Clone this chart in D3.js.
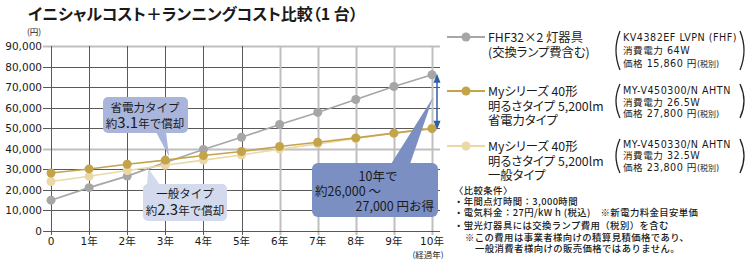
<!DOCTYPE html>
<html>
<head>
<meta charset="utf-8">
<script src="https://cdn.jsdelivr.net/npm/d3@7"></script>
<style>
  body { margin: 0; background: #fff; }
  svg text { font-family: "Noto Sans CJK JP", sans-serif; fill: #1a1a1a; }
  svg text.palt { font-feature-settings: "palt"; }
  svg text.num { font-family: "DejaVu Sans", "Noto Sans CJK JP", sans-serif; }
</style>
</head>
<body>
<div id="chart"></div>
<script>
// years on the x axis and their labels
const years = [0, 1, 2, 3, 4, 5, 6, 7, 8, 9, 10];
const yearLabels = ["0", "1年", "2年", "3年", "4年", "5年", "6年", "7年", "8年", "9年", "10年"];
const yTicks = [0, 10000, 20000, 30000, 40000, 50000, 60000, 70000, 80000, 90000];

// cumulative cost (円) per year
const costFHF = [15000, 21100, 26700, 33300, 39700, 45600, 51800, 57700, 64000, 70300, 76000];
const costSaving = [28200, 30200, 32500, 34500, 36700, 38700, 41100, 43200, 45300, 47600, 49800];
const costGeneral = [24100, 26600, 29400, 32000, 34500, 37000, 39800, 42400, 45000, 47600, 50200];

const seriesColors = ["#a6a6a6", "#c4a44b", "#ead9a6"];

// legend texts
const legendLines = [
  ["FHF32×2 灯器具", "(交換ランプ費含む)"],
  ["Myシリーズ 40形", "明るさタイプ 5,200lm", "省電力タイプ"],
  ["Myシリーズ 40形", "明るさタイプ 5,200lm", "一般タイプ"]
];
const modelNames = ["KV4382EF LVPN (FHF)", "MY-V450300/N AHTN", "MY-V450330/N AHTN"];
const powers = ["64W", "26.5W", "32.5W"];
const prices = ["15,860", "27,800", "23,800"];

const notes = [
  "〈比較条件〉",
  "・年間点灯時間：3,000時間",
  "・電気料金：27円/kW h (税込)　※新電力料金目安単価",
  "・蛍光灯器具には交換ランプ費用（税別）を含む",
  "※この費用は事業者様向けの積算見積価格であり、",
  "一般消費者様向けの販売価格ではありません。"
];

const W = 750, H = 259;
const svg = d3.select("#chart").append("svg")
  .attr("width", W).attr("height", H);

const x = d3.scaleLinear().domain([0, 10]).range([51, 432]);
const y = d3.scaleLinear().domain([0, 90000]).range([231, 46]);
const plotRight = 440;

// title
svg.append("text")
  .attr("class", "palt")
  .attr("x", 28).attr("y", 20)
  .attr("font-size", 16).attr("font-weight", "bold")
  .text("イニシャルコスト＋ランニングコスト比較（1 台）");

svg.append("text")
  .attr("x", 27).attr("y", 35)
  .attr("font-size", 8.5)
  .text("(円)");

// grid (some lines render lighter/thicker in the original)
const lightH = [40000, 90000];
const lightV = [6, 7, 8, 9, 10];
const grid = svg.append("g");
grid.selectAll(".hg").data(yTicks).enter().append("line")
  .attr("x1", 43).attr("x2", plotRight)
  .attr("y1", d => Math.round(y(d)) + 0.5).attr("y2", d => Math.round(y(d)) + 0.5)
  .attr("stroke", d => lightH.includes(d) ? "#bfbfbf" : "#595959")
  .attr("stroke-width", d => lightH.includes(d) ? 2 : 1);
grid.selectAll(".vg").data(years).enter().append("line")
  .attr("x1", d => Math.round(x(d)) + 0.5).attr("x2", d => Math.round(x(d)) + 0.5)
  .attr("y1", y(90000)).attr("y2", y(0) + 4)
  .attr("stroke", d => lightV.includes(d) ? "#bfbfbf" : "#595959")
  .attr("stroke-width", d => lightV.includes(d) ? 2 : 1);
grid.append("line")
  .attr("x1", 43).attr("x2", plotRight)
  .attr("y1", Math.round(y(0)) + 0.5).attr("y2", Math.round(y(0)) + 0.5)
  .attr("stroke", "#595959");

// axis labels
svg.append("g").selectAll("text").data(yTicks).enter().append("text")
  .attr("class", "num")
  .attr("x", 42).attr("y", d => y(d) + 4)
  .attr("text-anchor", "end").attr("font-size", 10.5)
  .text(d => d3.format(",")(d));

svg.append("g").selectAll("text").data(years).enter().append("text")
  .attr("class", "num")
  .attr("x", d => x(d)).attr("y", 245)
  .attr("text-anchor", "middle").attr("font-size", 10.5)
  .text((d, i) => yearLabels[i]);

svg.append("text")
  .attr("x", 428).attr("y", 258)
  .attr("text-anchor", "middle").attr("font-size", 8.5)
  .text("(経過年)");

// series lines
const allSeries = [costFHF, costSaving, costGeneral];
const drawOrder = [0, 2, 1];
const line = d3.line().x((d, i) => x(years[i])).y(d => y(d));
drawOrder.forEach(k => {
  const g = svg.append("g");
  g.append("path")
    .attr("d", line(allSeries[k]))
    .attr("fill", "none")
    .attr("stroke", seriesColors[k])
    .attr("stroke-width", 1.6);
  g.selectAll("circle").data(allSeries[k]).enter().append("circle")
    .attr("cx", (d, i) => x(years[i])).attr("cy", d => y(d))
    .attr("r", 4.5)
    .attr("fill", seriesColors[k]);
});

// callouts
function callout(g, box, tail, fill) {
  g.append("path")
    .attr("d", `M${tail[0][0]},${tail[0][1]}L${tail[2][0]},${tail[2][1]}L${tail[1][0]},${tail[1][1]}Z`)
    .attr("fill", fill);
  g.append("rect")
    .attr("x", box.x).attr("y", box.y)
    .attr("width", box.w).attr("height", box.h)
    .attr("rx", box.r).attr("fill", fill);
}

const c1 = svg.append("g");
callout(c1, { x: 103, y: 97, w: 85, h: 36, r: 5 },
  [[156, 132], [166, 132], [x(3.1), y(36200)]], "#a9b5da");
c1.append("text").attr("x", 145).attr("y", 112).attr("text-anchor", "middle")
  .attr("font-size", 11.5).text("省電力タイプ");
c1.append("text").attr("x", 145).attr("y", 128).attr("text-anchor", "middle")
  .attr("font-size", 11.5)
  .call(t => {
    t.append("tspan").text("約");
    t.append("tspan").attr("font-size", 15).text("3.1");
    t.append("tspan").text("年で償却");
  });

const c2 = svg.append("g");
callout(c2, { x: 143, y: 184, w: 84, h: 37, r: 5 },
  [[147, 185], [160, 185], [x(2.55), y(30500)]], "#d3daee");
c2.append("text").attr("x", 185).attr("y", 198).attr("text-anchor", "middle")
  .attr("font-size", 11.5).text("一般タイプ");
c2.append("text").attr("x", 185).attr("y", 215).attr("text-anchor", "middle")
  .attr("font-size", 11.5)
  .call(t => {
    t.append("tspan").text("約");
    t.append("tspan").attr("font-size", 15).text("2.3");
    t.append("tspan").text("年で償却");
  });

const c3 = svg.append("g");
callout(c3, { x: 312, y: 163, w: 126, h: 54, r: 6 },
  [[391, 164], [410, 164], [x(10) + 1, y(65000)]], "#7b8fc3");
c3.append("text").attr("x", 378).attr("y", 181).attr("text-anchor", "middle")
  .attr("font-size", 12.5).text("10年で");
c3.append("text").attr("x", 315).attr("y", 196)
  .attr("font-size", 12.5).text("約26,000 ～");
c3.append("text").attr("x", 434).attr("y", 211).attr("text-anchor", "end")
  .attr("font-size", 12.5).text("27,000 円お得");

// double arrow for the saving at year 10
const ax = x(10) + 5;
const arrowTop = y(costFHF[10]) - 1, arrowBot = y(costSaving[10]) + 1;
const arrowColor = "#2e5fa5";
svg.append("line")
  .attr("x1", ax).attr("x2", ax)
  .attr("y1", arrowTop + 4).attr("y2", arrowBot - 4)
  .attr("stroke", arrowColor).attr("stroke-width", 1.5);
svg.append("path")
  .attr("d", `M${ax},${arrowTop}l-3.5,9l7,0Z M${ax},${arrowBot}l-3.5,-9l7,0Z`)
  .attr("fill", arrowColor);

// legend
const legendY = [37, 91, 146];
const infoY = [[37, 50, 63], [90, 102, 113], [144, 155, 167]];
const parenSpan = [[31, 70], [84, 118], [139, 173]];
const legend = svg.append("g");
legendY.forEach((ly, k) => {
  legend.append("line")
    .attr("x1", 447).attr("x2", 485).attr("y1", ly).attr("y2", ly)
    .attr("stroke", seriesColors[k]).attr("stroke-width", 2.2);
  legend.append("circle")
    .attr("cx", 466).attr("cy", ly).attr("r", 4.5).attr("fill", seriesColors[k]);
  legendLines[k].forEach((s, j) => {
    legend.append("text")
      .attr("class", "palt")
      .attr("x", 488).attr("y", ly + 5 + j * 14.5)
      .attr("font-size", 12.3).text(s);
  });
  // parenthesised spec block
  const [p0, p1] = parenSpan[k];
  legend.append("path")
    .attr("d", `M620,${p0} Q612,${(p0 + p1) / 2} 620,${p1}`)
    .attr("fill", "none").attr("stroke", "#222").attr("stroke-width", 1.3);
  legend.append("path")
    .attr("d", `M740,${p0} Q748,${(p0 + p1) / 2} 740,${p1}`)
    .attr("fill", "none").attr("stroke", "#222").attr("stroke-width", 1.3);
  const iy = infoY[k];
  const info = [modelNames[k], "消費電力 " + powers[k]];
  info.forEach((s, j) => {
    legend.append("text").attr("class", "num").attr("x", 623).attr("y", iy[j] + 3.5)
      .attr("font-size", 9.6).attr("letter-spacing", 0.5).text(s);
  });
  legend.append("text").attr("class", "num").attr("x", 623).attr("y", iy[2] + 3.5)
    .attr("font-size", 9.6).attr("letter-spacing", 0.5)
    .call(t => {
      t.append("tspan").text("価格 " + prices[k] + " 円");
      t.append("tspan").attr("font-size", 8).attr("letter-spacing", 0).text("(税別)");
    });
});

// comparison conditions
const noteX = [454, 454, 454, 454, 465, 475];
const noteY = [194, 205, 216, 229, 241, 252];
svg.append("g").selectAll("text").data(notes).enter().append("text")
  .attr("x", (d, i) => noteX[i]).attr("y", (d, i) => noteY[i])
  .attr("font-size", 9.4).attr("font-weight", 500)
  .attr("letter-spacing", 0.4)
  .text(d => d);
</script>
</body>
</html>
